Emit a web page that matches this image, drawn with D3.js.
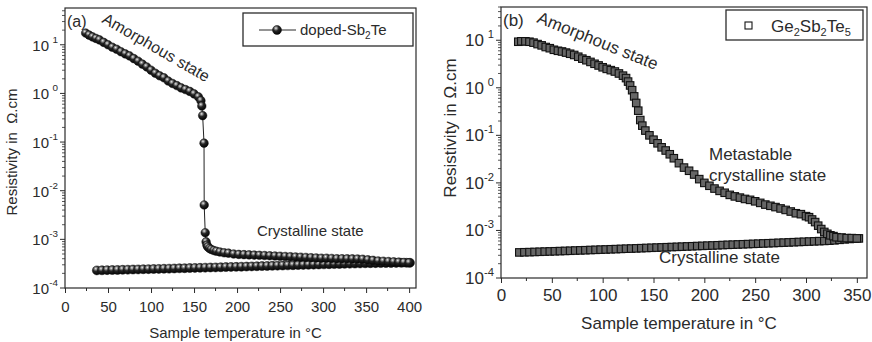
<!DOCTYPE html>
<html>
<head>
<meta charset="utf-8">
<script src="https://cdn.jsdelivr.net/npm/d3@7"></script>
<style>
  body { margin: 0; background: #fff; }
  svg { display: block; font-family: "Liberation Sans", Arial, sans-serif; }
</style>
</head>
<body>
<div id="chart"></div>
<script>
// panel (a): doped-Sb2Te, heating run (amorphous -> drop -> crystalline)
const sbHeatT = [24, 28, 32, 36, 40, 45, 50, 55, 60, 65, 70, 75, 80, 85, 90, 95, 100, 105, 110, 115,
  120, 125, 130, 135, 140, 145, 150, 155, 158, 159, 160, 161.6, 161.8, 163, 164, 165, 166, 168, 170,
  173, 176, 180, 185, 190, 196, 202, 208, 214, 220, 226, 232, 238, 244, 250, 256, 262, 268, 274, 280,
  286, 292, 298, 304, 310, 316, 322, 328, 334, 340, 346, 352, 358, 364, 370, 376, 382, 388, 394, 400];
const sbHeatR = [17.4, 15.8, 14.5, 13.5, 12.6, 11.2, 10, 8.9, 8.1, 7.2, 6.5, 5.9, 5.2, 4.6, 4.0, 3.5, 3.0, 2.6, 2.3, 2.1,
  1.8, 1.6, 1.45, 1.3, 1.2, 1.1, 0.98, 0.85, 0.71, 0.55, 0.35, 0.095, 0.0051, 0.00137, 0.00089, 0.00076, 0.0007, 0.00065, 0.00062,
  0.00059, 0.00057, 0.00055, 0.00053, 0.00052, 0.0005, 0.00049, 0.000485, 0.00048, 0.000475, 0.00047, 0.000465, 0.00046, 0.000455, 0.00045, 0.000445, 0.00044, 0.000435, 0.00043, 0.000425,
  0.00042, 0.000415, 0.00041, 0.00041, 0.000405, 0.0004, 0.0004, 0.000398, 0.000396, 0.000395, 0.00039, 0.00038, 0.00037, 0.00036, 0.000355, 0.00035, 0.000345, 0.00034, 0.000335, 0.00033];

// panel (a): crystalline cooling run
const sbCoolT = [37, 43, 49, 55, 61, 67, 73, 79, 85, 91, 97, 103, 109, 115, 121, 127, 133, 139, 145, 151,
  157, 163, 169, 175, 181, 187, 193, 199, 205, 211, 217, 223, 229, 235, 241, 247, 253, 259, 265, 271,
  277, 283, 289, 295, 301, 307, 313, 319, 325, 331, 337, 343, 349, 355, 361, 367, 373, 379, 385, 391, 397, 401];
const sbCoolR = [2.30, 2.31, 2.33, 2.34, 2.35, 2.37, 2.38, 2.40, 2.41, 2.43, 2.44, 2.46, 2.47, 2.49, 2.50, 2.52, 2.54, 2.55, 2.57, 2.59,
  2.60, 2.62, 2.64, 2.65, 2.67, 2.69, 2.71, 2.72, 2.74, 2.76, 2.78, 2.80, 2.82, 2.84, 2.86, 2.88, 2.90, 2.92, 2.94, 2.96,
  2.98, 3.00, 3.02, 3.04, 3.06, 3.08, 3.10, 3.12, 3.14, 3.16, 3.18, 3.20, 3.22, 3.23, 3.24, 3.25, 3.26, 3.27, 3.28, 3.29, 3.30, 3.30]
  .map(v => v * 1e-4);

// panel (b): Ge2Sb2Te5 heating run
const gstHeatT = [17, 20, 24, 28, 32, 36, 40, 44, 48, 52, 56, 60, 64, 68, 72, 76, 80, 84, 88, 92, 96, 100, 104, 108, 112, 116, 120,
  123, 125, 127, 129, 131, 133, 135, 137, 139, 142, 146, 150, 154, 158, 162, 166, 170, 175, 180, 185, 190, 195, 200, 205, 210,
  215, 220, 225, 230, 235, 240, 245, 250, 255, 260, 265, 270, 275, 280, 285, 290, 295, 300, 303, 306, 309, 312, 315, 318, 321,
  324, 327, 330, 335, 340, 345, 350];
const gstHeatR = [9.3, 9.5, 9.5, 9.3, 8.9, 8.3, 7.8, 7.2, 6.8, 6.3, 6.0, 5.8, 5.5, 5.2, 4.9, 4.5, 4.1, 3.8, 3.5, 3.2, 2.95, 2.7, 2.5, 2.35, 2.2, 2.0, 1.8,
  1.6, 1.35, 1.12, 0.89, 0.66, 0.48, 0.33, 0.21, 0.16, 0.126, 0.10, 0.081, 0.068, 0.056, 0.048, 0.040, 0.033, 0.026, 0.021, 0.018, 0.015, 0.012, 0.010, 0.0087, 0.0076,
  0.0068, 0.0062, 0.0056, 0.0052, 0.0049, 0.0046, 0.0044, 0.0041, 0.0038, 0.0035, 0.0033, 0.0031, 0.0029, 0.0027, 0.0025, 0.0023, 0.0022, 0.0020, 0.0019, 0.0017, 0.0015, 0.00126, 0.00107, 0.00093, 0.00085,
  0.00079, 0.00076, 0.00072, 0.00071, 0.00069, 0.00069, 0.00068];

// panel (b): crystalline cooling run
const gstCoolT = [18, 23, 28, 33, 38, 43, 48, 53, 58, 63, 68, 73, 78, 83, 88, 93, 98, 103, 108, 113, 118, 123, 128, 133, 138,
  143, 148, 153, 158, 163, 168, 173, 178, 183, 188, 193, 198, 203, 208, 213, 218, 223, 228, 233, 238, 243, 248, 253, 258, 263,
  268, 273, 278, 283, 288, 293, 298, 303, 308, 313, 318, 323, 328, 333, 338, 343, 348, 352];
const gstCoolR = [3.45, 3.48, 3.50, 3.53, 3.56, 3.59, 3.62, 3.65, 3.68, 3.71, 3.74, 3.78, 3.81, 3.84, 3.88, 3.91, 3.95, 3.98, 4.02, 4.05, 4.09, 4.13, 4.16, 4.20, 4.24,
  4.28, 4.32, 4.36, 4.40, 4.44, 4.48, 4.52, 4.56, 4.61, 4.65, 4.70, 4.74, 4.79, 4.83, 4.88, 4.93, 4.98, 5.02, 5.07, 5.12, 5.17, 5.22, 5.27, 5.33, 5.38,
  5.43, 5.49, 5.54, 5.60, 5.66, 5.72, 5.78, 5.84, 5.90, 5.96, 6.02, 6.09, 6.20, 6.35, 6.50, 6.62, 6.72, 6.80].map(v => v * 1e-4);

const xTicksA = [0, 50, 100, 150, 200, 250, 300, 350, 400];
const xTicksB = [0, 50, 100, 150, 200, 250, 300, 350];
const yExps = [-4, -3, -2, -1, 0, 1];

const ink = "#2b2b2b";
const W = 872, H = 342;

const svg = d3.select("#chart").append("svg").attr("width", W).attr("height", H);

const defs = svg.append("defs");
const grad = defs.append("radialGradient").attr("id", "ball")
  .attr("cx", "0.38").attr("cy", "0.3").attr("r", "0.7");
grad.append("stop").attr("offset", "0").attr("stop-color", "#eeeeee");
grad.append("stop").attr("offset", "0.2").attr("stop-color", "#8c8c8c");
grad.append("stop").attr("offset", "0.45").attr("stop-color", "#262626");
grad.append("stop").attr("offset", "1").attr("stop-color", "#030303");

const zip = (ts, rs) => ts.map((t, i) => [t, rs[i]]);

function drawPanel(p) {
  const g = svg.append("g");
  const x = d3.scaleLinear().domain(p.xDomain).range([p.left, p.right]);
  const y = d3.scaleLog().domain(p.yDomain).range([p.bottom, p.top]);

  // x ticks (outward)
  const xa = g.append("g").attr("transform", `translate(0,${p.bottom})`)
    .call(d3.axisBottom(x).tickValues(p.xTicks).tickSize(5).tickSizeOuter(0).tickPadding(p.tickPad).tickFormat(d3.format("d")));
  xa.select(".domain").remove();
  xa.selectAll("line").attr("stroke", ink);
  xa.selectAll("text").attr("font-size", p.tickFont).attr("fill", ink)
    .attr("font-family", "Liberation Sans, Arial, sans-serif");
  const minorX = d3.range(p.xTicks[0] + 25, p.xDomain[1], 50);
  g.selectAll(".mx").data(minorX).enter().append("line")
    .attr("x1", d => x(d)).attr("x2", d => x(d))
    .attr("y1", p.bottom).attr("y2", p.bottom + 3).attr("stroke", ink);

  // y ticks (outward, log)
  g.selectAll(".my").data(yExps).enter().append("line")
    .attr("x1", p.left - 5).attr("x2", p.left)
    .attr("y1", d => y(Math.pow(10, d))).attr("y2", d => y(Math.pow(10, d)))
    .attr("stroke", ink);
  const minorY = [];
  for (let e = -4; e <= 1; e++) for (let m = 2; m <= 9; m++) {
    const v = m * Math.pow(10, e);
    if (v <= p.yDomain[1]) minorY.push(v);
  }
  g.selectAll(".mny").data(minorY).enter().append("line")
    .attr("x1", p.left - 3).attr("x2", p.left)
    .attr("y1", d => y(d)).attr("y2", d => y(d)).attr("stroke", ink).attr("stroke-width", 0.8);

  const yl = g.selectAll(".yl").data(yExps).enter().append("text")
    .attr("x", p.left - 8 - p.expW).attr("y", d => y(Math.pow(10, d)) + 6)
    .attr("text-anchor", "end").attr("font-size", p.tickFont).attr("fill", ink);
  yl.append("tspan").text("10");
  yl.append("tspan").attr("font-size", p.tickFont * 0.66).attr("dy", -8)
    .attr("x", p.left - 7).attr("text-anchor", "end").text(d => d < 0 ? "-" + (-d) : d);

  // frame
  g.append("rect").attr("x", p.left).attr("y", p.top)
    .attr("width", p.right - p.left).attr("height", p.bottom - p.top)
    .attr("fill", "none").attr("stroke", ink).attr("stroke-width", 1.2);

  // titles
  g.append("text").attr("x", (p.left + p.right) / 2 - 5).attr("y", p.xTitleY)
    .attr("text-anchor", "middle").attr("font-size", p.titleFont).attr("fill", ink)
    .text("Sample temperature in °C");
  g.append("text").attr("transform", `translate(${p.yTitleX},${p.yTitleMid}) rotate(-90)`)
    .attr("text-anchor", "middle").attr("font-size", p.titleFont).attr("fill", ink)
    .attr("xml:space", "preserve")
    .text(p.yTitle);

  g.append("text").attr("x", p.left + 2).attr("y", p.top + 19)
    .attr("font-size", p.tagFont).attr("fill", ink).text(p.tag);

  return { g, x, y };
}

// ---------- panel (a)
const A = drawPanel({
  left: 65, right: 416, top: 8, bottom: 288,
  xDomain: [0, 408], yDomain: [1e-4, 57], xTicks: xTicksA,
  tickFont: 15, titleFont: 15, tagFont: 16, expW: 8, tickPad: 8,
  xTitleY: 338, yTitleX: 17, yTitleMid: 152,
  yTitle: "Resistivity in  \u03A9.cm", tag: "(a)"
});

const lineA = d3.line().x(d => A.x(d[0])).y(d => A.y(d[1]));
const sbCool = zip(sbCoolT, sbCoolR);
const sbHeat = zip(sbHeatT, sbHeatR);

A.g.append("path").attr("d", lineA(sbCool)).attr("fill", "none").attr("stroke", "#333").attr("stroke-width", 1);
A.g.selectAll(".sbc").data(sbCool).enter().append("circle")
  .attr("cx", d => A.x(d[0])).attr("cy", d => A.y(d[1])).attr("r", 4.5)
  .attr("fill", "url(#ball)").attr("stroke", "#111").attr("stroke-width", 0.5);
A.g.append("path").attr("d", lineA(sbHeat)).attr("fill", "none").attr("stroke", "#222").attr("stroke-width", 1);
A.g.selectAll(".sbh").data(sbHeat).enter().append("circle")
  .attr("cx", d => A.x(d[0])).attr("cy", d => A.y(d[1])).attr("r", 4.3)
  .attr("fill", "url(#ball)").attr("stroke", "#111").attr("stroke-width", 0.5);

// legend (a)
const la = A.g.append("g");
la.append("rect").attr("x", 243).attr("y", 13).attr("width", 170).attr("height", 33)
  .attr("fill", "#fff").attr("stroke", ink).attr("stroke-width", 1.3);
la.append("line").attr("x1", 259).attr("x2", 296).attr("y1", 30).attr("y2", 30).attr("stroke", ink);
la.append("circle").attr("cx", 277).attr("cy", 30).attr("r", 4.5)
  .attr("fill", "url(#ball)").attr("stroke", "#111").attr("stroke-width", 0.5);
const lat = la.append("text").attr("x", 300).attr("y", 35).attr("font-size", 15).attr("fill", ink);
lat.append("tspan").text("doped-Sb");
lat.append("tspan").attr("font-size", 10).attr("dy", 4).text("2");
lat.append("tspan").attr("dy", -4).text("Te");

A.g.append("text").attr("transform", "translate(101,22) rotate(30)")
  .attr("font-size", 16).attr("fill", ink).text("Amorphous state");
A.g.append("text").attr("x", 257).attr("y", 236)
  .attr("font-size", 15).attr("fill", ink).text("Crystalline state");

// ---------- panel (b)
const B = drawPanel({
  left: 501, right: 867, top: 7, bottom: 278,
  xDomain: [0, 360], yDomain: [1e-4, 50], xTicks: xTicksB,
  tickFont: 17, titleFont: 17, tagFont: 17, expW: 9, tickPad: 6,
  xTitleY: 329, yTitleX: 456, yTitleMid: 128,
  yTitle: "Resistivity in \u03A9.cm", tag: "(b)"
});

const gstCool = zip(gstCoolT, gstCoolR);
const gstHeat = zip(gstHeatT, gstHeatR);
const sq = 7.5;
[gstCool, gstHeat].forEach((series, k) => {
  B.g.selectAll(".gs" + k).data(series).enter().append("rect")
    .attr("x", d => B.x(d[0]) - sq / 2).attr("y", d => B.y(d[1]) - sq / 2)
    .attr("width", sq).attr("height", sq)
    .attr("fill", "#666").attr("stroke", "#111").attr("stroke-width", 1.1);
});

// legend (b)
const lb = B.g.append("g");
lb.append("rect").attr("x", 726).attr("y", 10).attr("width", 137).attr("height", 30)
  .attr("fill", "#fff").attr("stroke", ink).attr("stroke-width", 1.3);
lb.append("rect").attr("x", 745).attr("y", 22).attr("width", 7).attr("height", 7)
  .attr("fill", "#fff").attr("stroke", "#151515").attr("stroke-width", 1.1);
const lbt = lb.append("text").attr("x", 771).attr("y", 32).attr("font-size", 17).attr("fill", ink);
lbt.append("tspan").text("Ge");
lbt.append("tspan").attr("font-size", 11).attr("dy", 4).text("2");
lbt.append("tspan").attr("dy", -4).text("Sb");
lbt.append("tspan").attr("font-size", 11).attr("dy", 4).text("2");
lbt.append("tspan").attr("dy", -4).text("Te");
lbt.append("tspan").attr("font-size", 11).attr("dy", 4).text("5");

B.g.append("text").attr("transform", "translate(536,22) rotate(22)")
  .attr("font-size", 17).attr("fill", ink).text("Amorphous state");
B.g.append("text").attr("x", 709).attr("y", 160)
  .attr("font-size", 17).attr("fill", ink).text("Metastable");
B.g.append("text").attr("x", 709).attr("y", 181)
  .attr("font-size", 17).attr("fill", ink).text("crystalline state");
B.g.append("text").attr("x", 659).attr("y", 263)
  .attr("font-size", 17).attr("fill", ink).text("Crystalline state");
</script>
</body>
</html>
